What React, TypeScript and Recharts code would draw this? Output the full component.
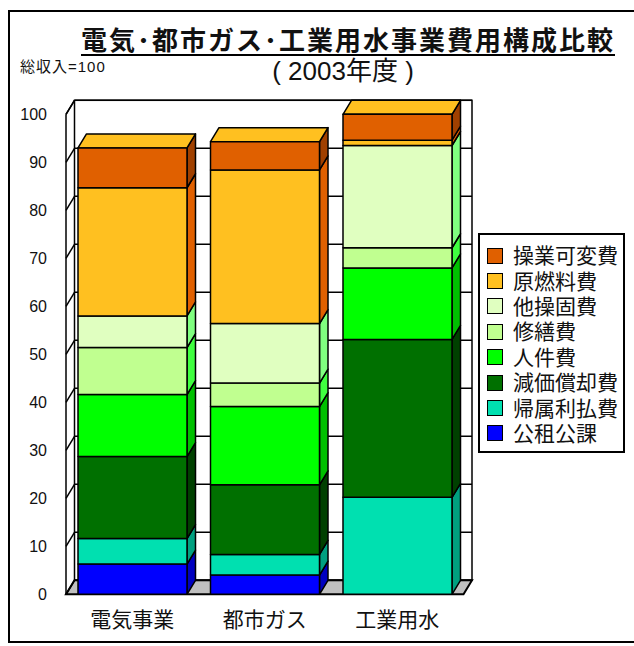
import React from "react";
import { BarChart, Bar, XAxis, YAxis, CartesianGrid, Legend } from "recharts";

// ────────────────────────────────────────────────────────────
// Data (総収入 = 100), stack order bottom → top
// ────────────────────────────────────────────────────────────

const categories = ["電気事業", "都市ガス", "工業用水"];

const seriesNames = [
  "公租公課",
  "帰属利払費",
  "減価償却費",
  "人件費",
  "修繕費",
  "他操固費",
  "原燃料費",
  "操業可変費",
];

const taxes = [6.3, 4.0, 0];
const interest = [5.3, 4.3, 20.2];
const depreciation = [17.1, 14.5, 32.9];
const personnel = [12.9, 16.3, 14.9];
const repairs = [9.8, 4.9, 4.2];
const otherFixed = [6.6, 12.4, 21.3];
const fuel = [26.7, 32.0, 1.1];
const variableOps = [8.3, 5.9, 5.4];

const yTicks = [0, 10, 20, 30, 40, 50, 60, 70, 80, 90, 100];

const seriesValues = [taxes, interest, depreciation, personnel, repairs, otherFixed, fuel, variableOps];

// front face / right side face colours, same order as seriesNames
const FRONT = ["#0000FF", "#00E0B0", "#007000", "#00FF00", "#C0FF90", "#E0FFC0", "#FFC020", "#E06000"];
const SIDE = ["#0000C0", "#00A080", "#004000", "#00C000", "#40FF40", "#80FF80", "#E06000", "#A04000"];
const TOP_FACE = "#FFC020";

const data = categories.map((name, i) => {
  const row: Record<string, string | number> = { name };
  seriesNames.forEach((s, k) => {
    row[s] = seriesValues[k][i];
  });
  return row;
});

const FONT = 'Arial, "Liberation Sans", "Noto Sans CJK JP", sans-serif';
const W = 634;
const H = 646;

// depth offset of the fake 3D box
const DX = 8.5;
const DY = 14;

// ────────────────────────────────────────────────────────────
// Back wall / left wall / floor, drawn from the grid lines
// ────────────────────────────────────────────────────────────

function WallLine(props: any) {
  const { x, y, width, height, y1, index } = props;
  const left = x;
  const right = x + width;
  const bottom = y + height;
  return (
    <g key={`wall-${index}`} stroke="#000" strokeWidth={1.5} fill="none">
      {index === 0 && (
        <>
          <polygon
            points={`${left},${bottom} ${right},${bottom} ${right + DX},${bottom - DY} ${left + DX},${bottom - DY}`}
            fill="#C0C0C0"
            strokeWidth={2}
          />
          <rect x={left + DX} y={y - DY} width={width} height={height} />
          <line x1={left} y1={y} x2={left} y2={bottom} />
          <line x1={left} y1={y} x2={left + DX} y2={y - DY} />
        </>
      )}
      <line x1={left + DX} y1={y1 - DY} x2={right + DX} y2={y1 - DY} />
      <line x1={left} y1={y1} x2={left + DX} y2={y1 - DY} />
    </g>
  );
}

// ────────────────────────────────────────────────────────────
// Stacked segment as a box: front, right side, optional top
// ────────────────────────────────────────────────────────────

function Box3D(props: any) {
  const { x, y, width, height, fill, sideFill, topFill } = props;
  if (!(height > 0) || !(width > 0)) return null;
  const r = x + width;
  const b = y + height;
  return (
    <g stroke="#000" strokeWidth={1.5} strokeLinejoin="round">
      <polygon points={`${r},${y} ${r + DX},${y - DY} ${r + DX},${b - DY} ${r},${b}`} fill={sideFill} />
      {topFill && (
        <polygon points={`${x},${y} ${x + DX},${y - DY} ${r + DX},${y - DY} ${r},${y}`} fill={topFill} />
      )}
      <rect x={x} y={y} width={width} height={height} fill={fill} />
    </g>
  );
}

// ────────────────────────────────────────────────────────────
// Legend box (top series first)
// ────────────────────────────────────────────────────────────

function CostLegend() {
  const items = seriesNames.map((name, k) => ({ name, color: FRONT[k] })).reverse();
  return (
    <div
      style={{
        width: 147,
        height: 220,
        boxSizing: "border-box",
        border: "2px solid #000",
        background: "#fff",
        paddingTop: 8,
        fontFamily: FONT,
      }}
    >
      {items.map((it) => (
        <div key={it.name} style={{ display: "flex", alignItems: "center", height: 25.4 }}>
          <span
            style={{
              display: "inline-block",
              width: 16,
              height: 16,
              boxSizing: "border-box",
              border: "1.5px solid #000",
              background: it.color,
              marginLeft: 7,
            }}
          />
          <span style={{ marginLeft: 10, fontSize: 21, lineHeight: "25px", color: "#111" }}>{it.name}</span>
        </div>
      ))}
    </div>
  );
}

export default function App() {
  return (
    <div
      style={{
        position: "absolute",
        left: 0,
        top: 0,
        width: W,
        height: H,
        overflow: "hidden",
        background: "#fff",
        fontFamily: FONT,
      }}
    >
      {/* outer frame */}
      <div
        style={{
          position: "absolute",
          left: 8,
          top: 10,
          width: 640,
          height: 633,
          boxSizing: "border-box",
          border: "2px solid #000",
        }}
      />

      <BarChart
        width={W}
        height={H}
        data={data}
        margin={{ top: 114.3, right: 170.5, bottom: 21.7, left: 16 }}
        barSize={109}
      >
        <CartesianGrid horizontal={WallLine} vertical={false} />
        <XAxis
          dataKey="name"
          interval={0}
          tickLine={false}
          axisLine={false}
          tickSize={0}
          tickMargin={18}
          height={30}
          tick={{ fontSize: 21, fill: "#111", fontFamily: FONT }}
        />
        <YAxis
          type="number"
          domain={[0, 100]}
          ticks={yTicks}
          interval={0}
          width={50}
          tickLine={false}
          axisLine={false}
          tickSize={0}
          tickMargin={19}
          tick={{ fontSize: 16, fill: "#111", fontFamily: FONT }}
        />
        <Legend
          layout="vertical"
          align="center"
          verticalAlign="middle"
          content={() => <CostLegend />}
          wrapperStyle={{ left: 478, top: 233, width: 147, height: 220 }}
        />
        {seriesNames.map((s, k) => (
          <Bar
            key={s}
            dataKey={s}
            name={s}
            stackId="cost"
            fill={FRONT[k]}
            isAnimationActive={false}
            shape={(p: any) => (
              <Box3D {...p} sideFill={SIDE[k]} topFill={k === seriesNames.length - 1 ? TOP_FACE : undefined} />
            )}
          />
        ))}
      </BarChart>

      {/* titles */}
      <div
        style={{
          position: "absolute",
          left: 48,
          width: 600,
          top: 28,
          textAlign: "center",
        }}
      >
        <span
          style={{
            display: "inline-block",
            fontSize: 26,
            fontWeight: "bold",
            letterSpacing: 2,
            lineHeight: "26px",
            borderBottom: "2px solid #000",
            color: "#111",
          }}
        >
          電気･都市ガス･工業用水事業費用構成比較
        </span>
      </div>
      <div
        style={{
          position: "absolute",
          left: 43,
          width: 600,
          top: 56,
          textAlign: "center",
          fontSize: 26,
          lineHeight: "30px",
          color: "#111",
        }}
      >
        ( 2003年度 )
      </div>
      <div
        style={{
          position: "absolute",
          left: 20,
          top: 58,
          fontSize: 15,
          letterSpacing: 1,
          lineHeight: "18px",
          color: "#111",
        }}
      >
        総収入=100
      </div>
    </div>
  );
}
